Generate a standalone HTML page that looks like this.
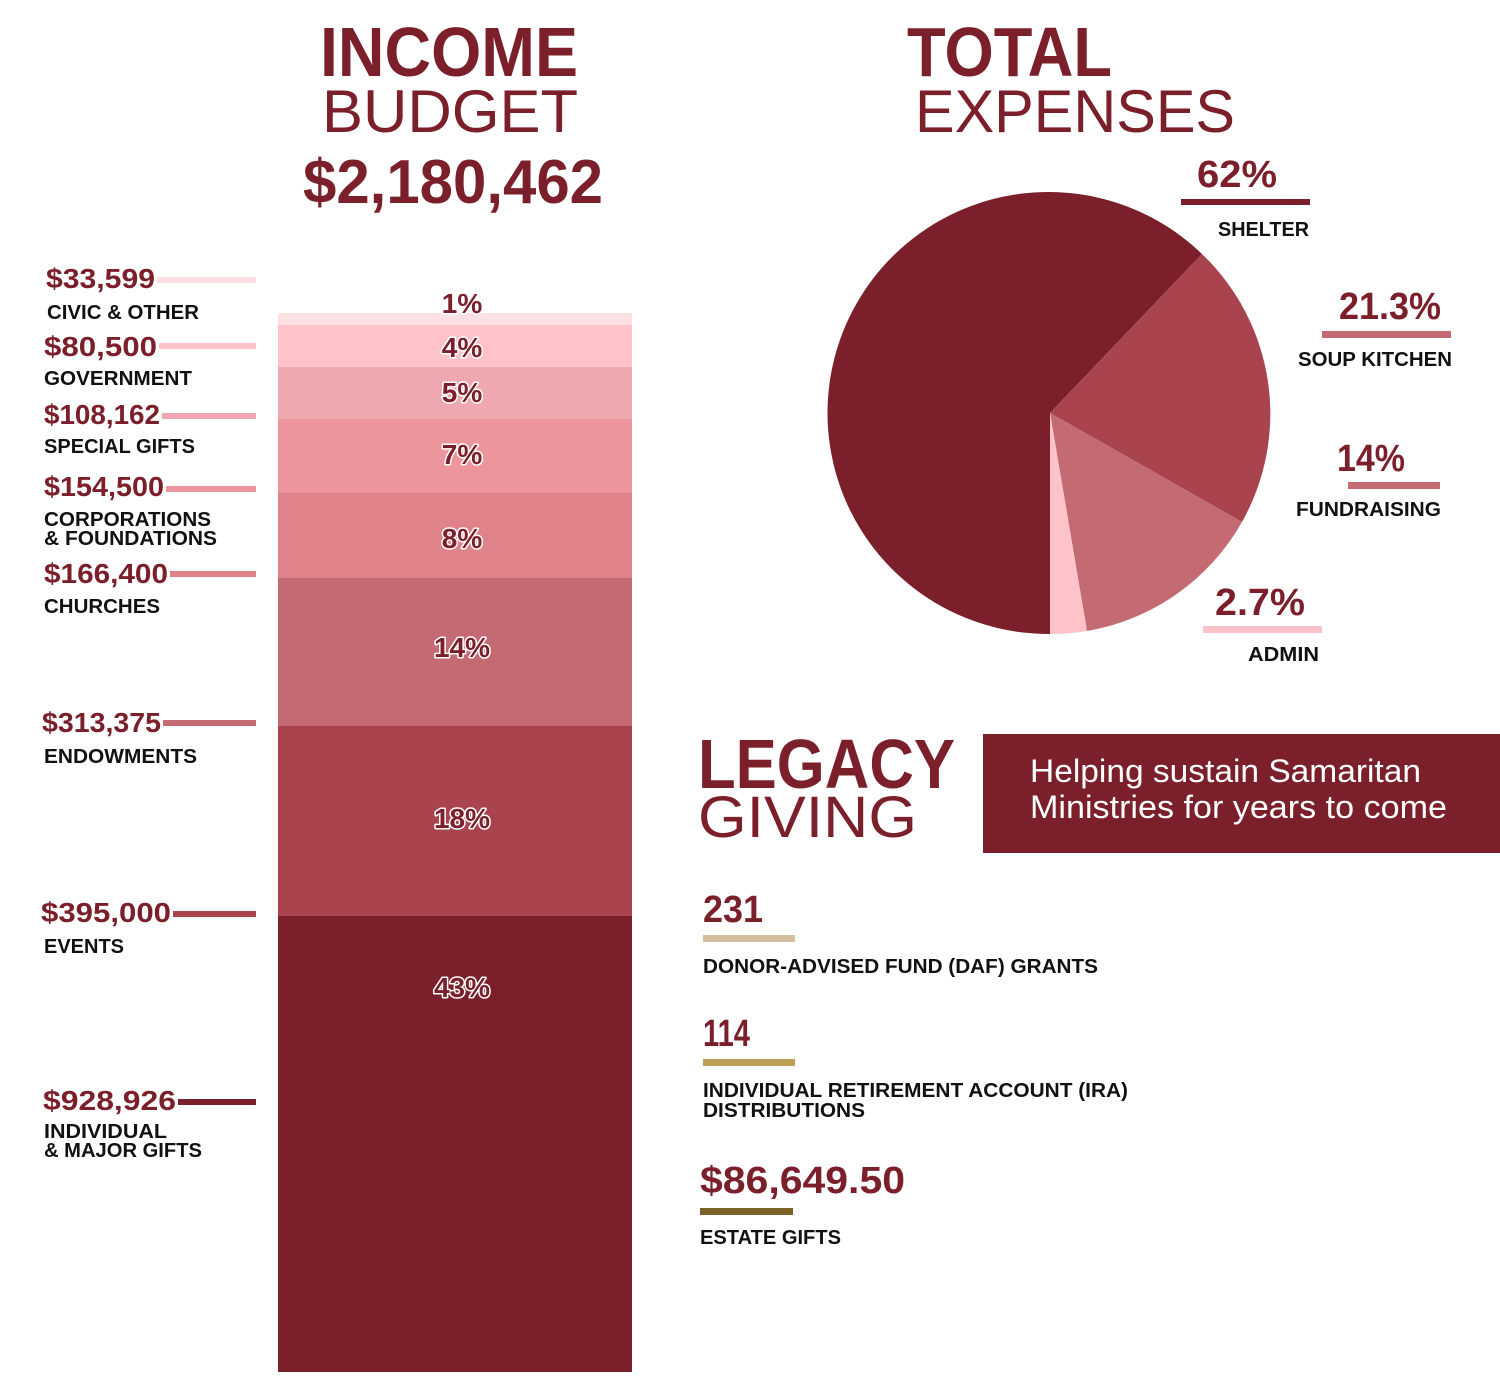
<!DOCTYPE html>
<html><head><meta charset="utf-8"><style>
html,body{margin:0;padding:0;background:#fff;}
svg{display:block;}
text{font-family:"Liberation Sans",sans-serif;}
.h{font-weight:bold;fill:#7b202b;}
.t{font-weight:normal;fill:#7b202b;}
.l{font-weight:bold;fill:#111;}
.p{font-weight:bold;fill:#7b202b;stroke:#fff;stroke-width:3px;paint-order:stroke;stroke-linejoin:round;}
</style></head><body>
<svg width="1500" height="1389" viewBox="0 0 1500 1389" xmlns="http://www.w3.org/2000/svg">
<rect width="1500" height="1389" fill="#fff"/>
<!-- headings -->
<text class="h" x="320" y="76" font-size="70" textLength="258" lengthAdjust="spacingAndGlyphs">INCOME</text>
<text class="t" x="322" y="132" font-size="60" textLength="256" lengthAdjust="spacingAndGlyphs">BUDGET</text>
<text class="h" x="303" y="203" font-size="62" textLength="300" lengthAdjust="spacingAndGlyphs">$2,180,462</text>
<text class="h" x="907" y="76" font-size="70" textLength="205" lengthAdjust="spacingAndGlyphs">TOTAL</text>
<text class="t" x="915" y="132" font-size="60" textLength="320" lengthAdjust="spacingAndGlyphs">EXPENSES</text>

<!-- stacked bar -->
<rect x="278" y="313" width="354" height="12" fill="#fde0e4"/>
<rect x="278" y="325" width="354" height="42" fill="#fdc3c9"/>
<rect x="278" y="367" width="354" height="52" fill="#f0a8b0"/>
<rect x="278" y="419" width="354" height="74" fill="#ec959d"/>
<rect x="278" y="493" width="354" height="85" fill="#df828a"/>
<rect x="278" y="578" width="354" height="148" fill="#c46a72"/>
<rect x="278" y="726" width="354" height="190" fill="#a9444f"/>
<rect x="278" y="916" width="354" height="456" fill="#7b202b"/>
<g font-size="28" text-anchor="middle">
<text class="p" x="462" y="313">1%</text>
<text class="p" x="462" y="357">4%</text>
<text class="p" x="462" y="402">5%</text>
<text class="p" x="462" y="464">7%</text>
<text class="p" x="462" y="548">8%</text>
<text class="p" x="462" y="657">14%</text>
<text class="p" x="462" y="828">18%</text>
<text class="p" x="462" y="997">43%</text>
</g>

<!-- left labels -->
<g font-size="28">
<text class="h" x="46" y="288" textLength="109" lengthAdjust="spacingAndGlyphs">$33,599</text>
<text class="h" x="44" y="356" textLength="113" lengthAdjust="spacingAndGlyphs">$80,500</text>
<text class="h" x="44" y="424" textLength="116" lengthAdjust="spacingAndGlyphs">$108,162</text>
<text class="h" x="44" y="496" textLength="120" lengthAdjust="spacingAndGlyphs">$154,500</text>
<text class="h" x="44" y="583" textLength="124" lengthAdjust="spacingAndGlyphs">$166,400</text>
<text class="h" x="42" y="732" textLength="119" lengthAdjust="spacingAndGlyphs">$313,375</text>
<text class="h" x="41" y="922" textLength="130" lengthAdjust="spacingAndGlyphs">$395,000</text>
<text class="h" x="43" y="1110" textLength="133" lengthAdjust="spacingAndGlyphs">$928,926</text>
</g>
<rect x="157" y="277" width="99" height="6" fill="#fde0e4"/>
<rect x="159" y="343" width="97" height="6" fill="#fdc3c9"/>
<rect x="162" y="413" width="94" height="6" fill="#f0a8b0"/>
<rect x="166" y="486" width="90" height="6" fill="#ec959d"/>
<rect x="170" y="571" width="86" height="6" fill="#df828a"/>
<rect x="163" y="720" width="93" height="6" fill="#c46a72"/>
<rect x="173" y="911" width="83" height="6" fill="#a9444f"/>
<rect x="178" y="1099" width="78" height="6" fill="#7b202b"/>
<g font-size="20">
<text class="l" x="47" y="319" textLength="152" lengthAdjust="spacingAndGlyphs">CIVIC &amp; OTHER</text>
<text class="l" x="44" y="385" textLength="148" lengthAdjust="spacingAndGlyphs">GOVERNMENT</text>
<text class="l" x="44" y="453" textLength="151" lengthAdjust="spacingAndGlyphs">SPECIAL GIFTS</text>
<text class="l" x="44" y="526" textLength="167" lengthAdjust="spacingAndGlyphs">CORPORATIONS</text>
<text class="l" x="44" y="545" textLength="173" lengthAdjust="spacingAndGlyphs">&amp; FOUNDATIONS</text>
<text class="l" x="44" y="613" textLength="116" lengthAdjust="spacingAndGlyphs">CHURCHES</text>
<text class="l" x="44" y="763" textLength="153" lengthAdjust="spacingAndGlyphs">ENDOWMENTS</text>
<text class="l" x="44" y="953" textLength="80" lengthAdjust="spacingAndGlyphs">EVENTS</text>
<text class="l" x="44" y="1138" textLength="123" lengthAdjust="spacingAndGlyphs">INDIVIDUAL</text>
<text class="l" x="44" y="1157" textLength="158" lengthAdjust="spacingAndGlyphs">&amp; MAJOR GIFTS</text>
</g>

<!-- pie -->
<path d="M1050,413 L1050,634 A221,221 0 1 1 1202,254 Z" fill="#7b202b"/>
<path d="M1050,413 L1202,254 A221,221 0 0 1 1242,522 Z" fill="#a9444f"/>
<path d="M1050,413 L1242,522 A221,221 0 0 1 1087,631 Z" fill="#c46a72"/>
<path d="M1050,413 L1087,631 A221,221 0 0 1 1050,634 Z" fill="#fdc3c9"/>

<g font-size="38">
<text class="h" x="1197" y="187" textLength="80" lengthAdjust="spacingAndGlyphs">62%</text>
<text class="h" x="1339" y="319" textLength="102" lengthAdjust="spacingAndGlyphs">21.3%</text>
<text class="h" x="1337" y="471" textLength="68" lengthAdjust="spacingAndGlyphs">14%</text>
<text class="h" x="1215" y="615" textLength="90" lengthAdjust="spacingAndGlyphs">2.7%</text>
</g>
<rect x="1181" y="199" width="129" height="6" fill="#7b202b"/>
<rect x="1322" y="331" width="129" height="7" fill="#c46a72"/>
<rect x="1348" y="482" width="92" height="7" fill="#c46a72"/>
<rect x="1203" y="626" width="119" height="7" fill="#fdc3c9"/>
<g font-size="20">
<text class="l" x="1218" y="236" textLength="91" lengthAdjust="spacingAndGlyphs">SHELTER</text>
<text class="l" x="1298" y="366" textLength="154" lengthAdjust="spacingAndGlyphs">SOUP KITCHEN</text>
<text class="l" x="1296" y="516" textLength="145" lengthAdjust="spacingAndGlyphs">FUNDRAISING</text>
<text class="l" x="1248" y="661" textLength="71" lengthAdjust="spacingAndGlyphs">ADMIN</text>
</g>

<!-- legacy -->
<text class="h" x="698" y="788" font-size="70" textLength="257" lengthAdjust="spacingAndGlyphs">LEGACY</text>
<text class="t" x="698" y="837" font-size="58" textLength="219" lengthAdjust="spacingAndGlyphs">GIVING</text>
<rect x="983" y="734" width="517" height="119" fill="#7b202b"/>
<text x="1030" y="782" font-size="32" fill="#fff" textLength="391" lengthAdjust="spacingAndGlyphs">Helping sustain Samaritan</text>
<text x="1030" y="818" font-size="32" fill="#fff" textLength="417" lengthAdjust="spacingAndGlyphs">Ministries for years to come</text>

<g font-size="38">
<text class="h" x="703" y="922" textLength="60" lengthAdjust="spacingAndGlyphs">231</text>
<text class="h" x="703" y="1046" textLength="47" lengthAdjust="spacingAndGlyphs">114</text>
<text class="h" x="700" y="1193" textLength="205" lengthAdjust="spacingAndGlyphs">$86,649.50</text>
</g>
<rect x="703" y="935" width="92" height="7" fill="#d4c09e"/>
<rect x="703" y="1059" width="92" height="7" fill="#bf9f58"/>
<rect x="700" y="1208" width="93" height="7" fill="#7a6228"/>
<g font-size="20">
<text class="l" x="703" y="973" textLength="395" lengthAdjust="spacingAndGlyphs">DONOR-ADVISED FUND (DAF) GRANTS</text>
<text class="l" x="703" y="1097" textLength="425" lengthAdjust="spacingAndGlyphs">INDIVIDUAL RETIREMENT ACCOUNT (IRA)</text>
<text class="l" x="703" y="1117" textLength="162" lengthAdjust="spacingAndGlyphs">DISTRIBUTIONS</text>
<text class="l" x="700" y="1244" textLength="141" lengthAdjust="spacingAndGlyphs">ESTATE GIFTS</text>
</g>
</svg>
</body></html>
